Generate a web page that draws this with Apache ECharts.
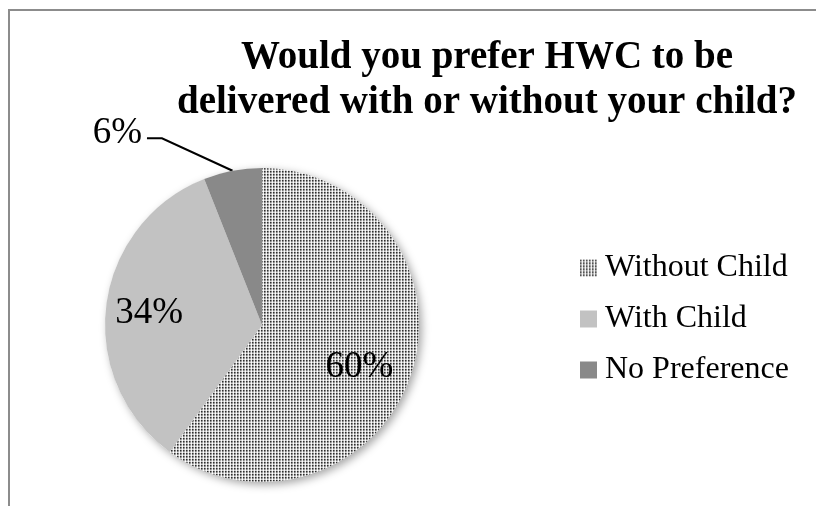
<!DOCTYPE html>
<html>
<head>
<meta charset="utf-8">
<title>HWC delivery preference</title>
<script src="https://cdn.jsdelivr.net/npm/echarts@6/dist/echarts.min.js"></script>
<style>
    html, body { margin: 0; padding: 0; background: #fff; }
    #main { width: 816px; height: 506px; }
</style>
</head>
<body>
<div id="main"></div>
<script>
// values
var categories = ['Without Child', 'With Child', 'No Preference'];
var shares = [60, 34, 6];
var titleText = 'Would you prefer HWC to be\ndelivered with or without your child?';

// look (kept apart from the data)
var sliceColors = ['pattern', '#c2c2c2', '#898989'];
var labelShift = [[20, 17], [-32, -2], [-65, -8]];
var serif = '"Liberation Serif", "DejaVu Serif", serif';

// little 3x3 tile that mimics the dotted Excel fill
function dotPattern() {
    var cells = [
        ['#2e2e2e', '#7a7a7a', '#e6e6e6'],
        ['#7a7a7a', '#a8a8a8', '#f0f0f0'],
        ['#c8c8c8', '#dcdcdc', '#ffffff']
    ];
    var c = document.createElement('canvas');
    c.width = 3;
    c.height = 3;
    var ctx = c.getContext('2d');
    for (var y = 0; y < 3; y++) {
        for (var x = 0; x < 3; x++) {
            ctx.fillStyle = cells[y][x];
            ctx.fillRect(x, y, 1, 1);
        }
    }
    return { image: c, repeat: 'repeat' };
}

function buildSlices() {
    var pattern = dotPattern();
    return categories.map(function (name, i) {
        var item = {
            name: name,
            value: shares[i],
            itemStyle: { color: sliceColors[i] === 'pattern' ? pattern : sliceColors[i] }
        };
        // the small slice gets its label outside with a leader line
        if (shares[i] < 10) {
            item.label = { position: 'outside' };
        }
        return item;
    });
}

function displayChart() {
    var chartDom = document.getElementById('main');
    var myChart = echarts.init(chartDom, null, { renderer: 'canvas' });
    var total = shares.reduce(function (a, b) { return a + b; }, 0);
    var pieCenter = [262, 325];
    var pieRadius = 157;

    var option = {
        animation: false,
        backgroundColor: '#fff',
        title: {
            text: titleText,
            left: 487,
            top: 35,
            padding: 0,
            textAlign: 'center',
            textStyle: {
                fontFamily: serif,
                fontWeight: 'bold',
                fontSize: 39,
                lineHeight: 45,
                color: '#000'
            }
        },
        legend: {
            data: categories,
            orient: 'vertical',
            left: 580,
            top: 252,
            padding: 0,
            icon: 'rect',
            itemWidth: 17,
            itemHeight: 17,
            itemGap: 19,
            selectedMode: false,
            textStyle: {
                fontFamily: serif,
                fontSize: 32,
                lineHeight: 32,
                padding: [0, 0, 0, 3],
                color: '#000'
            }
        },
        graphic: [
            {
                type: 'rect',
                shape: { x: 9, y: 10, width: 900, height: 600 },
                style: { fill: 'none', stroke: '#8c8c8c', lineWidth: 2 },
                silent: true
            }
        ],
        series: [
            {
                // plain disc under the slices, only to cast the soft shadow
                type: 'pie',
                silent: true,
                center: pieCenter,
                radius: pieRadius,
                label: { show: false },
                labelLine: { show: false },
                itemStyle: {
                    color: '#fff',
                    shadowBlur: 8,
                    shadowOffsetX: 3,
                    shadowOffsetY: 3,
                    shadowColor: 'rgba(0,0,0,0.35)'
                },
                data: [{ name: 'all', value: total }]
            },
            {
                type: 'pie',
                center: pieCenter,
                radius: pieRadius,
                startAngle: 90,
                clockwise: true,
                avoidLabelOverlap: false,
                emphasis: { disabled: true },
                label: {
                    show: true,
                    position: 'inside',
                    formatter: '{c}%',
                    fontFamily: serif,
                    fontSize: 37,
                    color: '#000'
                },
                labelLine: {
                    show: true,
                    length: 30,
                    length2: 15,
                    lineStyle: { color: '#000', width: 2 }
                },
                labelLayout: function (params) {
                    var s = labelShift[params.dataIndex];
                    var out = { dx: s[0], dy: s[1] };
                    var pts = params.labelLinePoints;
                    if (pts && shares[params.dataIndex] < 10) {
                        out.labelLinePoints = [
                            [pts[0][0], pts[0][1]],
                            [pts[1][0] + s[0], pts[1][1] - 3],
                            [pts[2][0] + s[0], pts[2][1] - 3]
                        ];
                    }
                    return out;
                },
                data: buildSlices()
            }
        ]
    };
    myChart.setOption(option);
}
displayChart();
</script>
</body>
</html>
